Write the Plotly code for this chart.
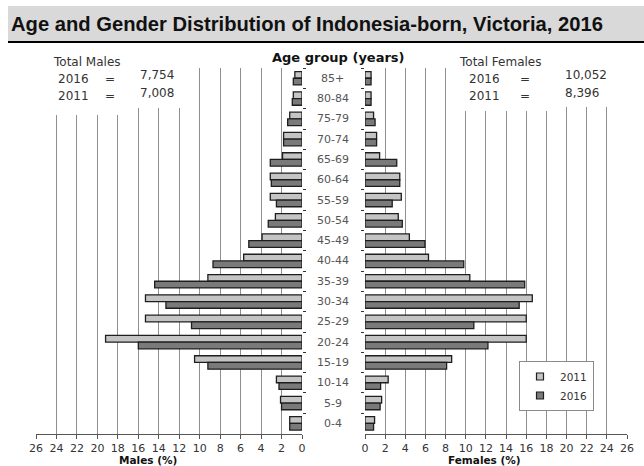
import plotly.graph_objects as go

ages = ["85+", "80-84", "75-79", "70-74", "65-69", "60-64", "55-59", "50-54", "45-49",
        "40-44", "35-39", "30-34", "25-29", "20-24", "15-19", "10-14", "5-9", "0-4"]
males_2011 = [0.7, 0.85, 1.2, 1.8, 1.9, 3.1, 3.1, 2.6, 3.9, 5.7, 9.2, 15.3, 15.3, 19.2, 10.5, 2.5, 2.1, 1.2]
males_2016 = [0.85, 0.95, 1.4, 1.8, 3.1, 3.0, 2.5, 3.3, 5.2, 8.7, 14.4, 13.3, 10.8, 16.0, 9.2, 2.25, 2.0, 1.2]
females_2011 = [0.6, 0.6, 0.85, 1.15, 1.45, 3.45, 3.6, 3.3, 4.4, 6.3, 10.4, 16.6, 16.0, 16.0, 8.6, 2.3, 1.65, 0.95]
females_2016 = [0.6, 0.6, 1.0, 1.15, 3.15, 3.45, 2.7, 3.7, 5.95, 9.8, 15.85, 15.3, 10.8, 12.2, 8.1, 1.55, 1.5, 0.85]
years = ["2011", "2016"]
tick_vals = list(range(0, 27, 2))
title_text = "Age and Gender Distribution of Indonesia-born, Victoria, 2016"
male_totals = ["7,754", "7,008"]
female_totals = ["10,052", "8,396"]

W, H = 644, 466
def px(x):
    return x / W
def py(y):
    return 1 - y / H

C2011 = "#c4c4c4"
C2016 = "#7a7a7a"
OUT = "#1e1e1e"
FONT = "DejaVu Sans"

fig = go.Figure()
for vals, name, col in [(males_2011, years[0], C2011), (males_2016, years[1], C2016)]:
    fig.add_trace(go.Bar(x=vals, y=ages, orientation="h", name=name, xaxis="x", yaxis="y",
                         marker=dict(color=col, line=dict(color=OUT, width=1.3)), showlegend=False))
for vals, name, col in [(females_2011, years[0], C2011), (females_2016, years[1], C2016)]:
    fig.add_trace(go.Bar(x=vals, y=ages, orientation="h", name=name, xaxis="x2", yaxis="y2",
                         marker=dict(color=col, line=dict(color=OUT, width=1.3)), showlegend=False))
for name, col in [(years[0], C2011), (years[1], C2016)]:
    fig.add_trace(go.Scatter(x=[None], y=[None], mode="markers", name=name, xaxis="x2", yaxis="y2",
                             marker=dict(symbol="square", size=7, color=col, line=dict(color=OUT, width=1.2))))

ydom = [py(433.5), py(68.1)]
xcommon = dict(tickmode="array", tickvals=tick_vals, showgrid=True, gridcolor="#8f8f8f", gridwidth=1,
               showline=True, linecolor="#555555", linewidth=1, ticks="outside", ticklen=4,
               tickcolor="#555555", tickfont=dict(family=FONT, size=11, color="#333333"),
               zeroline=False, fixedrange=True, automargin=False)
ycommon = dict(type="category", categoryorder="array", categoryarray=ages, range=[17.5, -0.5],
               domain=ydom, ticks="outside", ticklen=3, tickcolor="#333333", tickson="boundaries",
               showticklabels=False, showgrid=False, showline=False, zeroline=False, fixedrange=True,
               automargin=False)

fig.update_layout(
    width=W, height=H, autosize=False, margin=dict(l=0, r=0, t=0, b=0, pad=0, autoexpand=False),
    paper_bgcolor="white", plot_bgcolor="white",
    barmode="group", bargap=0.34, bargroupgap=0,
    xaxis=dict(domain=[px(36), px(302)], range=[26, 0], anchor="y", **xcommon),
    xaxis2=dict(domain=[px(365), px(627)], range=[0, 26], anchor="y2", **xcommon),
    yaxis=dict(anchor="x", side="right", **ycommon),
    yaxis2=dict(anchor="x2", side="left", **ycommon),
    showlegend=True,
    legend=dict(x=px(519), y=py(361), xanchor="left", yanchor="top", bgcolor="white",
                bordercolor="#8a8a8a", borderwidth=1, font=dict(family=FONT, size=10.5, color="#333333"),
                itemwidth=30, tracegroupgap=0),
)

shapes = [
    dict(type="rect", xref="paper", yref="paper", x0=px(8), x1=1, y0=py(41), y1=py(6),
         fillcolor="#d9d9d9", line=dict(width=0), layer="above"),
    dict(type="line", xref="paper", yref="paper", x0=px(8), x1=1, y0=py(42), y1=py(42),
         line=dict(color="black", width=2), layer="above"),
    dict(type="rect", xref="paper", yref="paper", x0=px(46), x1=px(128), y0=py(115), y1=py(66),
         fillcolor="white", line=dict(width=0), layer="above"),
    dict(type="rect", xref="paper", yref="paper", x0=px(128), x1=px(190), y0=py(108), y1=py(66),
         fillcolor="white", line=dict(width=0), layer="above"),
    dict(type="rect", xref="paper", yref="paper", x0=px(455), x1=px(556), y0=py(111), y1=py(66),
         fillcolor="white", line=dict(width=0), layer="above"),
    dict(type="rect", xref="paper", yref="paper", x0=px(556), x1=px(616), y0=py(107), y1=py(66),
         fillcolor="white", line=dict(width=0), layer="above"),
]
fig.update_layout(shapes=shapes)

ann = []
def txt(x, y, s, size=12, color="#333333", family=FONT, xanchor="left", bold=False):
    if bold:
        s = "<b>" + s + "</b>"
    ann.append(dict(x=px(x), y=py(y), xref="paper", yref="paper", text=s, showarrow=False,
                    xanchor=xanchor, yanchor="middle", font=dict(family=family, size=size, color=color)))

txt(9, 24, title_text, size=20.2, color="#111111", family="Liberation Sans", bold=True)
txt(338, 57, "Age group (years)", size=13, color="#111111", xanchor="center", bold=True)
txt(51, 62, "Total Males")
txt(56, 79, years[1]); txt(110, 79, "=", xanchor="center"); txt(138, 75, male_totals[0])
txt(56, 96, years[0]); txt(110, 96, "=", xanchor="center"); txt(138, 93, male_totals[1])
txt(457, 62, "Total Females")
txt(467, 79, years[1]); txt(525, 79, "=", xanchor="center"); txt(563, 75, female_totals[0])
txt(467, 96, years[0]); txt(525, 96, "=", xanchor="center"); txt(563, 93, female_totals[1])
txt(148, 460, "Males (%)", size=10.5, color="#111111", xanchor="center", bold=True)
txt(484, 460, "Females (%)", size=10.5, color="#111111", xanchor="center", bold=True)

for a in ages:
    ann.append(dict(x=px(333), y=a, xref="paper", yref="y", text=a, showarrow=False,
                    xanchor="center", yanchor="middle", font=dict(family=FONT, size=11, color="#555555")))

fig.update_layout(annotations=ann)
fig.write_html("out.html",
               config={"responsive": False, "displayModeBar": False},
               post_script="document.documentElement.style.overflow='hidden';"
                           "document.body.style.margin='0';document.body.style.overflow='hidden';")
